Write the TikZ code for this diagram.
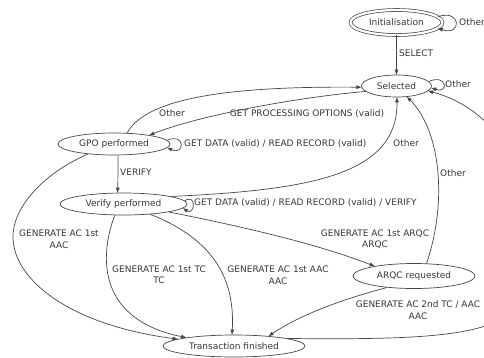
\documentclass[tikz,border=0pt]{standalone}
\usepackage{fontspec}
\setmainfont{DejaVu Sans}
\usetikzlibrary{shapes.geometric,arrows.meta}
\begin{document}
\begin{tikzpicture}[x=1pt,y=-1pt,
  state/.style={ellipse,draw=black!72,line width=0.7pt,inner sep=0pt,
    minimum height=22pt,font=\fontsize{9}{11.5}\selectfont,text=black!78},
  edge/.style={draw=black!72,line width=0.7pt,-{Triangle[length=5pt,width=3.6pt]}},
  lbl/.style={font=\fontsize{9}{11.5}\selectfont,text=black!78,inner sep=0pt,align=center}]
\useasboundingbox[fill=white] (0,0) rectangle (484,357);

% states
\node[state,double,double distance=2.2pt,minimum width=92pt,minimum height=25pt] (init) at (396.5,22.5) {Initialisation};
\node[state,minimum width=70pt] (sel) at (396.5,86) {Selected};
\node[state,minimum width=112pt] (gpo) at (114,144) {GPO performed};
\node[state,minimum width=127pt] (ver) at (123.5,204) {Verify performed};
\node[state,minimum width=122pt,minimum height=25pt] (arqc) at (414,276) {ARQC requested};
\node[state,minimum width=142pt] (fin) at (234,346) {Transaction finished};

% labels
\node[lbl,anchor=west] (lSelect) at (399,53) {SELECT};
\node[lbl,anchor=west] (lInitOther) at (459,22) {Other};
\node[lbl,anchor=west] (lSelOther) at (445,84) {Other};
\node[lbl] (lGpoOther) at (172,113) {Other};
\node[lbl] (lGpo) at (307,114) {GET PROCESSING OPTIONS (valid)};
\node[lbl,anchor=west] (lGpoLoop) at (184,143.5) {GET DATA (valid) / READ RECORD (valid)};
\node[lbl,anchor=west] (lVerify) at (120,172) {VERIFY};
\node[lbl,anchor=west] (lVerLoop) at (194,203) {GET DATA (valid) / READ RECORD (valid) / VERIFY};
\node[lbl] (lVerOther) at (406,143) {Other};
\node[lbl] (lGpoAac) at (59,239) {GENERATE AC 1st\\AAC};
\node[lbl] (lVerTc) at (159,274.5) {GENERATE AC 1st TC\\TC};
\node[lbl] (lVerAac) at (278,275) {GENERATE AC 1st AAC\\AAC};
\node[lbl] (lVerArqc) at (375,239) {GENERATE AC 1st ARQC\\ARQC};
\node[lbl,anchor=west] (lArqcOther) at (440,173) {Other};
\node[lbl] (lArqcFin) at (418,310) {GENERATE AC 2nd TC / AAC\\AAC};

% transitions
\draw[edge] (init.8) .. controls +(24,-8) and +(24,8) .. (init.-8);
\draw[edge] (init.south) -- (sel.north);
\draw[edge] (sel.8) .. controls +(18,-8) and +(18,6) .. (sel.-3);
\draw[edge] (gpo.40) .. controls (145,100) and (220,86) .. (sel.182);
\draw[edge] (sel.190) .. controls (300,97) and (200,115) .. (gpo.14);
\draw[edge] (gpo.4) .. controls +(18,-8) and +(18,8) .. (gpo.-4);
\draw[edge] (gpo.290) -- (ver.117);
\draw[edge] (gpo.201) .. controls (40,175) and (12,210) .. (13,238)
  .. controls (14,280) and (70,325) .. (fin.173.5);
\draw[edge] (ver.3) .. controls +(12,-8) and +(12,8) .. (ver.-4);
\draw[edge] (ver.9) .. controls (310,190) and (398,175) .. (sel.272);
\draw[edge] (ver.232) .. controls (98,260) and (100,320) .. (fin.170.5);
\draw[edge] (ver.339) .. controls (215,240) and (235,280) .. (fin.100);
\draw[edge] (ver.350) .. controls (250,228) and (320,245) .. (arqc.166);
\draw[edge] (arqc.45) .. controls (448,200) and (440,130) .. (sel.314);
\draw[edge] (arqc.203) .. controls (340,300) and (300,315) .. (fin.16);
\draw[edge] (fin.8) .. controls (450,340) and (520,336) .. (532,280)
  .. controls (540,180) and (500,110) .. (sel.-9);
\end{tikzpicture}
\end{document}
